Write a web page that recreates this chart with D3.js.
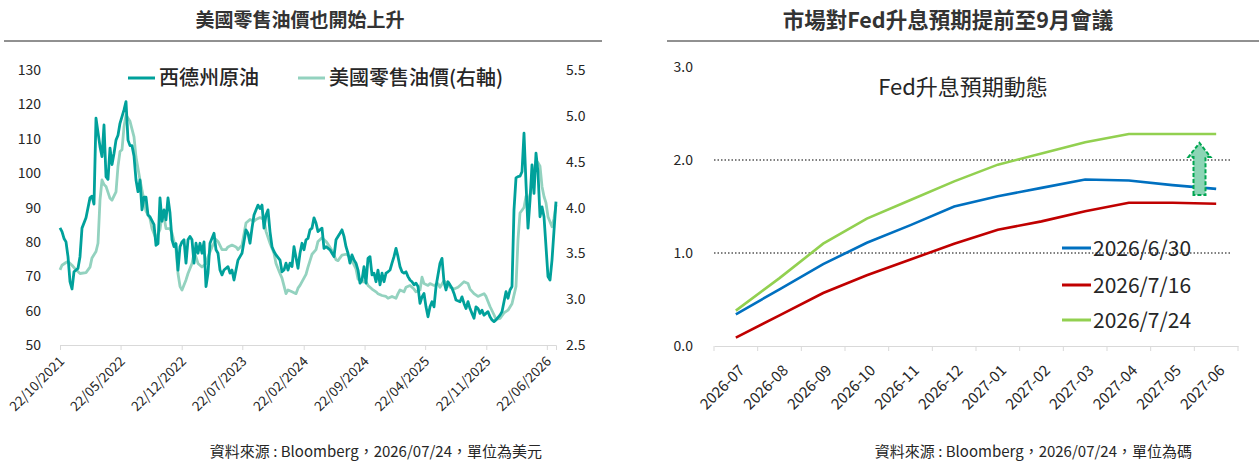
<!DOCTYPE html>
<html>
<head>
<meta charset="utf-8">
<script src="https://cdn.jsdelivr.net/npm/d3@7"></script>
<style>
  body { margin: 0; background: #fff; }
  svg { font-family: "Noto Sans CJK TC", "Noto Sans", sans-serif; }
</style>
</head>
<body>
<svg id="chart" width="1259" height="465"></svg>
<script>
// ---------- left chart data: [weeks since start, value] ----------
const startDate = "22/10/2021";
const endDate = "24/07/2026";
const leftTicks = ["22/10/2021", "22/05/2022", "22/12/2022", "22/07/2023", "22/02/2024",
                   "22/09/2024", "22/04/2025", "22/11/2025", "22/06/2026"];
const leftAxisTicks = [50, 60, 70, 80, 90, 100, 110, 120, 130];
const rightAxisTicks = [2.5, 3.0, 3.5, 4.0, 4.5, 5.0, 5.5];

const wti = [
  [0,84.1],[1,83],[2,81],[3,80],[4,75.7],[5,68.4],[6,66.3],[7,71.3],[9,72.3],[10,75.7],
  [11,84],[13,87],[15,92.8],[16,93.3],[17,91],[18,116],[20,107.7],[21,104.8],[22,114],[23,99],
  [24,98.2],[25,107.3],[26,102.5],[27,105.7],[28,109.6],[29,111],[30,114.5],[32,118.4],[33,120.8],[34,109.6],
  [35,108],[36,108],[37,105],[38,98],[39,94.6],[40,98],[41,89.3],[42,93],[43,93],[44,87.8],
  [45,87.3],[47,85],[48,79],[49,79.5],[50,92.8],[51,86],[52,89.3],[53,86.4],[54,92.8],[55,88.4],
  [56,80.6],[57,78.6],[58,79.5],[59,71.8],[60,78.6],[61,80],[62,80.6],[63,73.8],[64,80.6],[65,81.6],
  [66,80.6],[67,73.8],[68,79.6],[69,76.7],[70,79.6],[71,76.7],[72,80],[73,67],[74,70.9],[75,79.6],
  [77,82.5],[78,77.7],[79,76.7],[80,71.8],[81,70.4],[82,71.8],[84,72.8],[85,70.9],[86,71.8],[87,68.9],
  [88,71.8],[89,74.7],[91,76.7],[93,83.5],[94,82.5],[95,79.6],[96,84],[97,87.8],[99,90.7],[100,89.7],
  [101,90.7],[102,84],[103,87.8],[104,89.3],[105,83],[106,78.6],[107,77.2],[108,76.2],[110,74.7],[111,71.3],
  [112,71.8],[113,73.8],[114,71.8],[115,73.8],[116,72.8],[117,78.6],[119,72.3],[120,76.7],[121,79.6],[122,77.7],
  [123,80.6],[124,81],[125,83.5],[126,84],[127,87],[128,85.5],[129,83],[131,84],[132,78.1],[133,78.6],
  [135,77.7],[136,76.7],[137,75.7],[138,80.6],[140,82.5],[141,83.5],[142,81.6],[143,78.6],[144,76.7],[145,73.8],
  [146,76.2],[147,74.7],[148,73.8],[149,71.8],[150,68],[151,68.9],[152,72.8],[153,68],[154,75.2],[155,75.7],
  [156,70.4],[157,70.9],[158,68.4],[159,71.8],[160,67.5],[161,70.9],[162,68.4],[163,70.9],[164,71.3],[165,71.8],
  [166,73.8],[167,75.7],[168,78.1],[169,75.7],[170,72.8],[171,71.3],[172,70.9],[173,71.3],[174,69.9],[175,68.9],
  [176,68.4],[177,67.5],[178,68],[179,67],[180,62.1],[181,64],[182,65],[183,61.1],[184,58.2],[185,61.1],
  [186,62.6],[187,61.1],[188,67],[190,73.8],[191,75.2],[192,68.4],[193,66],[194,68.4],[195,67.5],[196,66.5],
  [197,65],[198,63.1],[200,62.6],[201,64],[202,62.1],[203,60.6],[204,62.6],[205,60.6],[206,59.2],[207,57.8],
  [208,61.1],[209,60.6],[210,59.2],[211,60.1],[212,58.7],[214,59.7],[215,58.2],[216,57.3],[217,56.8],[218,57.3],
  [220,58.7],[221,59.7],[222,62.6],[223,65.5],[224,63.6],[225,66],[226,67],[227,89.3],[228,98.6],[229,99],
  [230,99.1],[231,100.4],[232,111.6],[233,97],[234,84],[235,92],[236,102.4],[237,94.1],[238,105.8],[239,100.2],
  [240,87.3],[241,90.2],[242,87.3],[243,78.6],[244,69.9],[245,68.9],[246,74.7],[247,83.3],[248,91.7]
];

const gasoline = [
  [0,3.32],[1,3.37],[3,3.40],[4,3.41],[6,3.37],[8,3.32],[10,3.28],[13,3.29],[15,3.35],[16,3.45],
  [18,3.52],[19,3.61],[20,4.08],[21,4.30],[22,4.25],[23,4.23],[25,4.10],[26,4.08],[28,4.17],[29,4.45],
  [30,4.61],[31,4.63],[32,4.88],[33,5.01],[35,4.94],[37,4.77],[38,4.55],[40,4.30],[42,4.08],[43,3.96],
  [45,3.88],[46,3.77],[48,3.66],[50,3.76],[51,3.92],[52,3.90],[53,3.77],[55,3.77],[56,3.72],[58,3.54],
  [59,3.28],[60,3.14],[61,3.10],[63,3.21],[64,3.28],[66,3.39],[67,3.50],[68,3.46],[69,3.39],[71,3.35],
  [73,3.39],[74,3.46],[76,3.57],[78,3.65],[79,3.63],[81,3.54],[83,3.54],[84,3.57],[86,3.59],[88,3.57],
  [89,3.54],[91,3.59],[93,3.83],[95,3.87],[97,3.85],[98,3.87],[100,3.89],[102,3.87],[103,3.74],[105,3.61],
  [107,3.50],[108,3.39],[110,3.28],[111,3.23],[113,3.06],[114,3.10],[116,3.08],[118,3.06],[119,3.12],[120,3.15],
  [123,3.27],[124,3.35],[126,3.49],[128,3.54],[129,3.63],[131,3.67],[133,3.63],[134,3.60],[136,3.53],[138,3.43],
  [139,3.42],[141,3.48],[143,3.49],[144,3.48],[146,3.42],[148,3.33],[149,3.22],[151,3.19],[153,3.19],[154,3.15],
  [156,3.11],[158,3.08],[159,3.06],[161,3.04],[163,3.03],[164,3.01],[166,3.03],[168,3.01],[169,3.06],[170,3.10],
  [172,3.08],[173,3.13],[175,3.15],[177,3.11],[178,3.08],[180,3.10],[181,3.24],[182,3.17],[184,3.15],[185,3.17],
  [187,3.15],[189,3.17],[190,3.13],[192,3.20],[194,3.17],[195,3.13],[197,3.11],[199,3.13],[200,3.15],[202,3.19],
  [204,3.17],[205,3.11],[207,3.06],[209,3.03],[210,3.04],[212,3.06],[213,3.03],[215,2.92],[217,2.83],[218,2.78],
  [220,2.79],[222,2.85],[224,2.88],[226,2.95],[228,3.14],[229,3.65],[230,3.94],[232,4.00],[233,4.12],[234,4.05],
  [236,4.23],[237,4.40],[238,4.50],[239,4.49],[240,4.45],[241,4.23],[242,4.12],[243,4.05],[244,3.90],[246,3.79],
  [247,3.88],[248,4.03]
];

// ---------- right chart data ----------
const months = ["2026-07", "2026-08", "2026-09", "2026-10", "2026-11", "2026-12",
                "2027-01", "2027-02", "2027-03", "2027-04", "2027-05", "2027-06"];
const fedTicks = [0, 1, 2, 3];
const fed0630 = [0.34, 0.61, 0.88, 1.11, 1.30, 1.50, 1.61, 1.70, 1.79, 1.78, 1.73, 1.69];
const fed0716 = [0.09, 0.33, 0.57, 0.76, 0.93, 1.10, 1.25, 1.34, 1.45, 1.54, 1.54, 1.53];
const fed0724 = [0.38, 0.73, 1.10, 1.37, 1.57, 1.77, 1.95, 2.07, 2.19, 2.28, 2.28, 2.28];

const svg = d3.select("#chart");
const textColor = "#262626";

// ================= LEFT CHART =================
const parseDmy = d3.timeParse("%d/%m/%Y");
const t0 = parseDmy(startDate);
const toDate = w => d3.timeDay.offset(t0, w * 7);

const xL = d3.scaleTime().domain([t0, parseDmy(endDate)]).range([60, 556]);
const yL = d3.scaleLinear().domain([50, 130]).range([345, 70]);
const yR = d3.scaleLinear().domain([2.5, 5.5]).range([345, 70]);

svg.append("text")
  .attr("x", 300).attr("y", 27)
  .attr("text-anchor", "middle")
  .attr("font-size", 19).attr("font-weight", "bold").attr("fill", "#333")
  .text("美國零售油價也開始上升");
svg.append("line")
  .attr("x1", 4).attr("x2", 602).attr("y1", 41).attr("y2", 41)
  .attr("stroke", "#222").attr("stroke-width", 1);

// left y labels
svg.append("g").selectAll("text")
  .data(leftAxisTicks).join("text")
  .attr("x", 41).attr("y", d => yL(d) + 5)
  .attr("text-anchor", "end")
  .attr("font-size", 14).attr("fill", textColor)
  .text(d => d);

// right y labels
svg.append("g").selectAll("text")
  .data(rightAxisTicks).join("text")
  .attr("x", 566).attr("y", d => yR(d) + 5)
  .attr("font-size", 14).attr("fill", textColor)
  .text(d => d.toFixed(1));

// x axis
const xAxisL = svg.append("g")
  .attr("transform", "translate(0,345)")
  .call(d3.axisBottom(xL)
    .tickValues(leftTicks.map(parseDmy))
    .tickFormat(d3.timeFormat("%d/%m/%Y"))
    .tickSizeOuter(0).tickSize(5));
xAxisL.select(".domain").attr("stroke", "#d9d9d9");
xAxisL.selectAll(".tick line").attr("stroke", "#d9d9d9");
xAxisL.selectAll(".tick text")
  .attr("font-family", "\"Noto Sans CJK TC\", sans-serif")
  .attr("font-size", 13.5).attr("fill", textColor)
  .attr("text-anchor", "end")
  .attr("dx", "-0.65em").attr("dy", "0.55em")
  .attr("transform", "rotate(-45)");

const lineL = d3.line().x(d => xL(toDate(d[0]))).y(d => yL(d[1]));
const lineR = d3.line().x(d => xL(toDate(d[0]))).y(d => yR(d[1]));

const wtiColor = "#00A19B";
const gasColor = "#93D2BF";

svg.append("path").datum(gasoline)
  .attr("d", lineR).attr("fill", "none")
  .attr("stroke", gasColor).attr("stroke-width", 2.8).attr("stroke-linejoin", "round");
svg.append("path").datum(wti)
  .attr("d", lineL).attr("fill", "none")
  .attr("stroke", wtiColor).attr("stroke-width", 2.8).attr("stroke-linejoin", "round");

// legend
const legL = [
  { name: "西德州原油", color: wtiColor, x: 128 },
  { name: "美國零售油價(右軸)", color: gasColor, x: 298 }
];
legL.forEach(l => {
  svg.append("line")
    .attr("x1", l.x).attr("x2", l.x + 27).attr("y1", 78).attr("y2", 78)
    .attr("stroke", l.color).attr("stroke-width", 3);
  svg.append("text")
    .attr("x", l.x + 31).attr("y", 85)
    .attr("font-size", 20).attr("font-weight", 500).attr("fill", textColor)
    .text(l.name);
});

svg.append("text")
  .attr("x", 542).attr("y", 457)
  .attr("text-anchor", "end")
  .attr("font-size", 15).attr("fill", textColor)
  .text("資料來源 : Bloomberg，2026/07/24，單位為美元");

// ================= RIGHT CHART =================
const xF = d3.scaleBand().domain(months).range([714, 1238]);
const yF = d3.scaleLinear().domain([0, 3]).range([346, 67]);
const cx = m => xF(m) + xF.bandwidth() / 2;

svg.append("text")
  .attr("x", 948).attr("y", 28)
  .attr("text-anchor", "middle")
  .attr("font-size", 21.5).attr("font-weight", "bold").attr("fill", "#333")
  .text("市場對Fed升息預期提前至9月會議");
svg.append("line")
  .attr("x1", 667).attr("x2", 1259).attr("y1", 41).attr("y2", 41)
  .attr("stroke", "#222").attr("stroke-width", 1);

svg.append("g").selectAll("text")
  .data(fedTicks).join("text")
  .attr("x", 693).attr("y", d => yF(d) + 5)
  .attr("text-anchor", "end")
  .attr("font-size", 14).attr("fill", textColor)
  .text(d => d.toFixed(1));

// dotted gridlines at 1.0 and 2.0
svg.append("g").selectAll("line")
  .data(fedTicks.filter(d => d > 0 && d < 3)).join("line")
  .attr("x1", 714).attr("x2", 1230)
  .attr("y1", d => yF(d)).attr("y2", d => yF(d))
  .attr("stroke", "#000").attr("stroke-width", 1.2)
  .attr("stroke-dasharray", "1.5,2");

// x axis
const xAxisF = svg.append("g")
  .attr("transform", "translate(0,346)")
  .call(d3.axisBottom(xF).tickSize(0).tickSizeOuter(0));
xAxisF.select(".domain").attr("stroke", "#d9d9d9");
xAxisF.selectAll(".tick text")
  .attr("font-family", "\"Noto Sans CJK TC\", sans-serif")
  .attr("font-size", 15).attr("fill", textColor)
  .attr("text-anchor", "end")
  .attr("dx", "-0.75em").attr("dy", "1.45em")
  .attr("transform", "rotate(-45)");
svg.append("g").selectAll("line")
  .data(months.concat(["end"])).join("line")
  .attr("x1", (d, i) => xF.range()[0] + i * xF.step())
  .attr("x2", (d, i) => xF.range()[0] + i * xF.step())
  .attr("y1", 346).attr("y2", 351)
  .attr("stroke", "#d9d9d9");

const fedSeries = [
  { name: "2026/6/30", values: fed0630, color: "#0070C0" },
  { name: "2026/7/16", values: fed0716, color: "#C00000" },
  { name: "2026/7/24", values: fed0724, color: "#92D050" }
];
const fedLine = d3.line().x((d, i) => cx(months[i])).y(d => yF(d));
fedSeries.forEach(s => {
  svg.append("path").datum(s.values)
    .attr("d", fedLine).attr("fill", "none")
    .attr("stroke", s.color).attr("stroke-width", 2.6);
});

svg.append("text")
  .attr("x", 963).attr("y", 95)
  .attr("text-anchor", "middle")
  .attr("font-size", 22).attr("fill", textColor)
  .text("Fed升息預期動態");

// legend
const legY = [248, 285, 320];
fedSeries.forEach((s, i) => {
  svg.append("line")
    .attr("x1", 1062).attr("x2", 1091).attr("y1", legY[i]).attr("y2", legY[i])
    .attr("stroke", s.color).attr("stroke-width", 3);
  svg.append("text")
    .attr("x", 1093).attr("y", legY[i] + 8)
    .attr("font-size", 21).attr("fill", textColor)
    .text(s.name);
});

// dashed arrow showing the upward shift in 2027-05
const ax = cx("2027-05") + 27;
const yBot = yF(fed0630[10]) + 10, yTop = yF(fed0724[10]) + 9;
const bw = 6, hw = 11, hh = 14;
svg.append("path")
  .attr("d", `M${ax - bw},${yBot} L${ax - bw},${yTop + hh} L${ax - hw},${yTop + hh} L${ax},${yTop}
              L${ax + hw},${yTop + hh} L${ax + bw},${yTop + hh} L${ax + bw},${yBot} Z`)
  .attr("fill", "#8CD5B5")
  .attr("stroke", "#00A651").attr("stroke-width", 2)
  .attr("stroke-dasharray", "4,2");

svg.append("text")
  .attr("x", 1192).attr("y", 457)
  .attr("text-anchor", "end")
  .attr("font-size", 15).attr("fill", textColor)
  .text("資料來源 : Bloomberg，2026/07/24，單位為碼");
</script>
</body>
</html>
